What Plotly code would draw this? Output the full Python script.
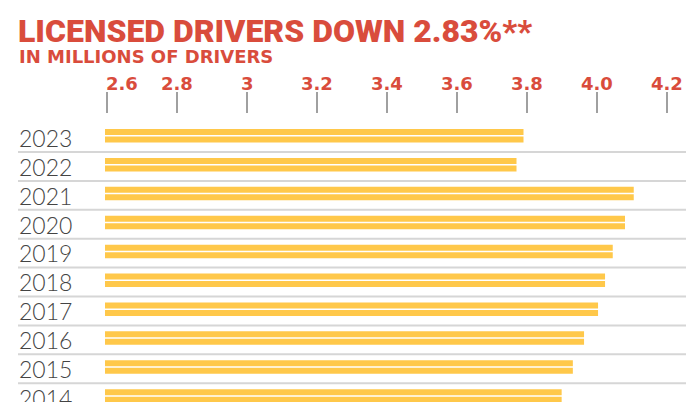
import plotly.graph_objects as go

years = ["2023", "2022", "2021", "2020", "2019", "2018", "2017", "2016", "2015", "2014"]
drivers = [3.79, 3.77, 4.105, 4.08, 4.045, 4.023, 4.003, 3.963, 3.931, 3.899]
tick_vals = [2.6, 2.8, 3.0, 3.2, 3.4, 3.6, 3.8, 4.0, 4.2]
tick_text = ["2.6", "2.8", "3", "3.2", "3.4", "3.6", "3.8", "4.0", "4.2"]

title_text = "LICENSED DRIVERS DOWN 2.83%**"
subtitle_text = "IN MILLIONS OF DRIVERS"

RED = "#d94c3c"
YELLOW = "#ffc84a"

W, H = 686, 402
ML, MT = 105, 114
PW, PH = W - ML, H - MT
ROW = 28.9

def px_to_paper_x(px):
    return (px - ML) / PW

def px_to_paper_y(py):
    return (H - py) / PH

fig = go.Figure()
for k in range(2):
    fig.add_trace(go.Bar(
        y=years, x=drivers, orientation="h",
        marker=dict(color=YELLOW, line=dict(width=0)),
        hoverinfo="x+y", showlegend=False,
    ))

top_off = 21.8 / ROW
x_lo = 2.6 - 2 / 350
x_hi = 2.6 + (W - 107) / 350

annotations = []
shapes = []
for i, yr in enumerate(years):
    annotations.append(dict(
        x=px_to_paper_x(17), xref="paper", xanchor="left",
        y=i, yref="y", yanchor="middle", yshift=-2,
        text=yr, showarrow=False,
        font=dict(family="Lato", size=23, color="#444444", weight=300),
    ))
    shapes.append(dict(
        type="line", xref="paper", yref="y",
        x0=px_to_paper_x(18), x1=1, y0=i + 0.56, y1=i + 0.56,
        line=dict(color="#d6d6d6", width=2), layer="below",
    ))

for v, t in zip(tick_vals, tick_text):
    first = (t == "2.6")
    annotations.append(dict(
        x=v, xref="x", xanchor="left" if first else "center", xshift=-3 if first else 0,
        y=px_to_paper_y(84), yref="paper", yanchor="middle",
        text=t, showarrow=False,
        font=dict(family="DejaVu Sans", size=18, color=RED, weight="bold"),
    ))

annotations.append(dict(
    x=px_to_paper_x(16), xref="paper", xanchor="left",
    y=px_to_paper_y(31), yref="paper", yanchor="middle",
    text=title_text, showarrow=False,
    font=dict(family="Roboto", size=32, color=RED, weight=900),
))
annotations.append(dict(
    x=px_to_paper_x(17), xref="paper", xanchor="left",
    y=px_to_paper_y(57), yref="paper", yanchor="middle",
    text=subtitle_text, showarrow=False,
    font=dict(family="DejaVu Sans", size=18, color=RED, weight="bold"),
))

fig.update_layout(
    width=W, height=H,
    margin=dict(l=ML, r=0, t=MT, b=0, pad=0),
    plot_bgcolor="white", paper_bgcolor="white",
    barmode="group", bargap=0.48, bargroupgap=0.2,
    annotations=annotations, shapes=shapes,
    xaxis=dict(
        range=[x_lo, x_hi], side="top", showgrid=False, zeroline=False, showline=False,
        tickvals=tick_vals, ticktext=tick_text, showticklabels=False,
        ticks="outside", ticklen=21, tickwidth=1.5, tickcolor="#a0a0a0",
    ),
    yaxis=dict(
        type="category", categoryorder="array", categoryarray=years,
        range=[-top_off + PH / ROW, -top_off],
        showgrid=False, zeroline=False, showline=False, showticklabels=False, ticks="",
    ),
)

fig.write_html(
    "out.html",
    config={"displayModeBar": False},
    post_script="document.body.style.margin='0px';document.body.style.overflow='hidden';",
)
